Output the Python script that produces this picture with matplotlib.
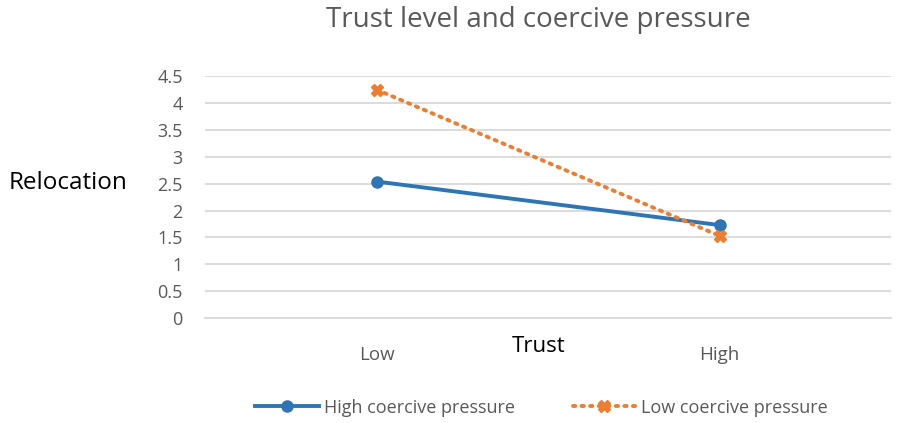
import matplotlib.pyplot as plt

plt.rcParams['font.family'] = ['Open Sans', 'DejaVu Sans']

categories = ['Low', 'High']
high_pressure = [2.54, 1.73]
low_pressure = [4.25, 1.53]
yticks = [0, 0.5, 1, 1.5, 2, 2.5, 3, 3.5, 4, 4.5]

grey = '#595959'
blue = '#2E75B6'
orange = '#ED7D31'

fig = plt.figure(figsize=(8.97, 4.23), dpi=100)
ax = fig.add_axes([0.2285, 0.248, 0.765, 0.572])

x = range(len(categories))
ax.plot(x, high_pressure, color=blue, lw=2.8, marker='o', ms=8, label='High coercive pressure')
ax.plot(x, low_pressure, color=orange, lw=2.8, ls=(0, (0.6, 1.6)), marker='X', ms=8,
        label='Low coercive pressure', dash_capstyle='round')

ax.set_xlim(-0.5, 1.5)
ax.set_ylim(0, 4.5)
ax.set_yticks(yticks)
ax.set_yticklabels([('%g' % v) for v in yticks])
ax.set_xticks(list(x))
ax.set_xticklabels(categories)
ax.yaxis.grid(True, color='#D9D9D9', lw=1.3)
ax.set_axisbelow(True)
for s in ax.spines.values():
    s.set_visible(False)
ax.spines['bottom'].set_visible(True)
ax.spines['bottom'].set_color('#D9D9D9')
ax.spines['bottom'].set_linewidth(1.3)
ax.tick_params(axis='y', length=0, labelsize=13, labelcolor=grey, pad=16)
ax.tick_params(axis='x', length=0, labelsize=13.5, labelcolor=grey, pad=20)

fig.text(0.6, 0.952, 'Trust level and coercive pressure', ha='center', va='center',
         fontsize=20, color=grey)
fig.text(0.6, 0.182, 'Trust', ha='center', va='center', fontsize=16, color='black')
fig.text(0.076, 0.567, 'Relocation', ha='center', va='center', fontsize=17.5, color='black')

fig.legend(loc='center', bbox_to_anchor=(0.604, 0.036), ncol=2, frameon=False,
           fontsize=13, labelcolor=grey, handlelength=3.5, columnspacing=3.2, handletextpad=0.3)

fig.savefig('out.png', dpi=100)
